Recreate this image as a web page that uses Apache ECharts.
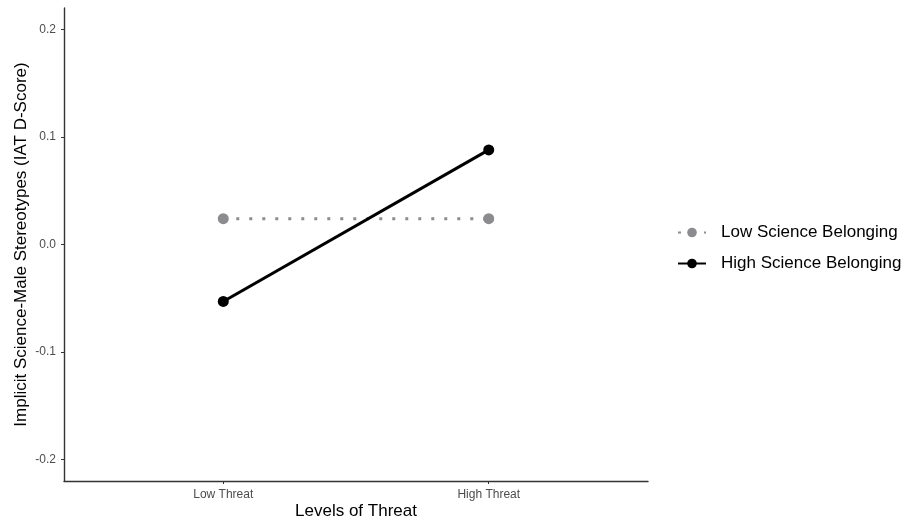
<!DOCTYPE html>
<html>
<head>
<meta charset="utf-8">
<script src="https://cdn.jsdelivr.net/npm/echarts@6/dist/echarts.min.js"></script>
<style>
  html, body { margin: 0; padding: 0; background: #fff; }
  #chart { width: 905px; height: 522px; }
</style>
</head>
<body>
<div id="chart"></div>
<script>
// x positions 1 and 2 are the two threat levels
const categories = ['Low Threat', 'High Threat']
const catPos = [1, 2]
const lowBelonging = [0.024, 0.024]
const highBelonging = [-0.053, 0.088]
const yTicks = [-0.2, -0.1, 0, 0.1, 0.2]
const yTickLabels = ['-0.2', '-0.1', '0.0', '0.1', '0.2']

const chart = echarts.init(document.getElementById('chart'))

function pairs(vals) {
  return vals.map((v, i) => [catPos[i], v])
}

const option = {
  animation: false,
  textStyle: { fontFamily: 'Liberation Sans, Arial, sans-serif' },
  grid: { left: 64, right: 257, top: 8, bottom: 41, outerBoundsMode: 'none', containLabel: false },
  legend: {
    orient: 'vertical',
    left: 672,
    top: 219,
    itemWidth: 28,
    itemHeight: 12,
    itemGap: 14,
    textStyle: { fontSize: 17, color: '#000', padding: [0, 0, 0, 10] },
    data: ['Low Science Belonging', 'High Science Belonging']
  },
  xAxis: {
    type: 'value',
    min: 0.4,
    max: 2.6,
    name: 'Levels of Threat',
    nameLocation: 'middle',
    nameMoveOverlap: false,
    nameGap: 22,
    nameTextStyle: { fontSize: 17, color: '#000', verticalAlign: 'top' },
    splitLine: { show: false },
    axisLine: { show: true, onZero: false, lineStyle: { color: '#333', width: 1.4 } },
    axisTick: { show: true, length: 3, customValues: catPos, lineStyle: { color: '#333' } },
    axisLabel: {
      customValues: catPos,
      fontSize: 12,
      color: '#4d4d4d',
      margin: 8,
      formatter: v => categories[catPos.indexOf(v)]
    }
  },
  yAxis: {
    type: 'value',
    min: -0.22,
    max: 0.22,
    name: 'Implicit Science-Male Stereotypes (IAT D-Score)',
    nameLocation: 'middle',
    nameMoveOverlap: false,
    nameGap: 34,
    nameTextStyle: { fontSize: 17, color: '#000' },
    splitLine: { show: false },
    axisLine: { show: true, onZero: false, lineStyle: { color: '#333', width: 1.4 } },
    axisTick: { show: true, length: 3, customValues: yTicks, lineStyle: { color: '#333' } },
    axisLabel: {
      customValues: yTicks,
      fontSize: 12,
      color: '#4d4d4d',
      margin: 8,
      formatter: v => yTickLabels[yTicks.indexOf(v)]
    }
  },
  series: [
    {
      name: 'Low Science Belonging',
      type: 'line',
      data: pairs(lowBelonging),
      symbol: 'circle',
      symbolSize: 11,
      color: '#8c8c8f',
      itemStyle: { color: '#8c8c8f' },
      lineStyle: { color: '#8c8c8f', width: 3, type: [3, 10] }
    },
    {
      name: 'High Science Belonging',
      type: 'line',
      data: pairs(highBelonging),
      symbol: 'circle',
      symbolSize: 11,
      color: '#000',
      itemStyle: { color: '#000' },
      lineStyle: { color: '#000', width: 3 }
    }
  ]
}

chart.setOption(option)
</script>
</body>
</html>
